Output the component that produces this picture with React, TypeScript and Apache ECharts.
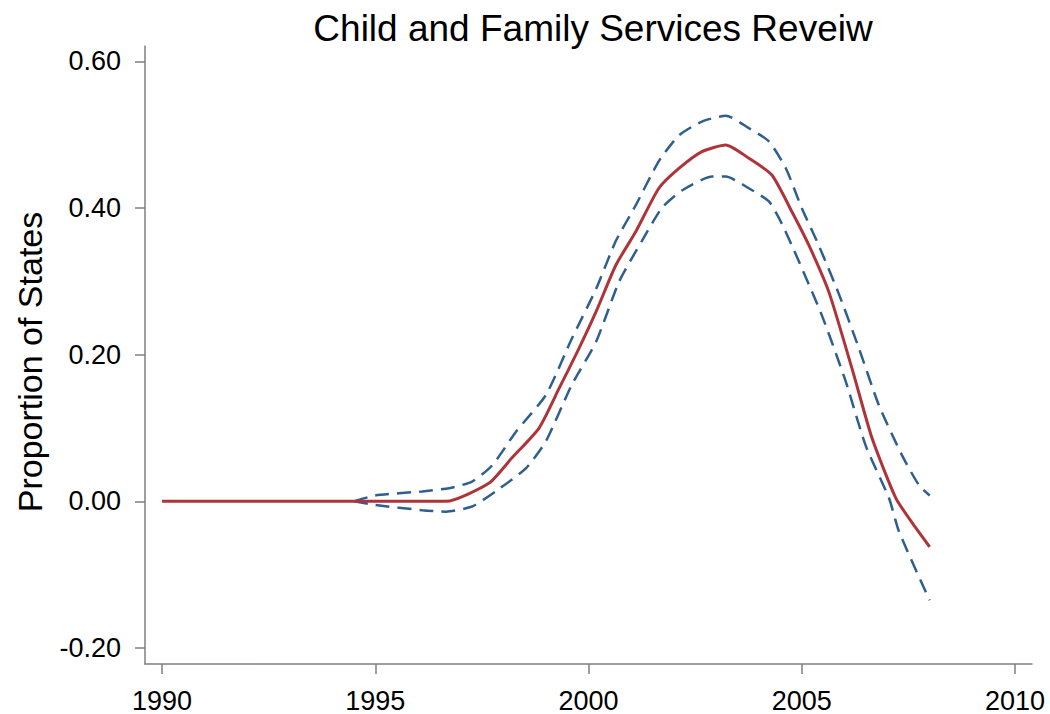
import React, { useEffect, useRef } from "react";
import * as echarts from "echarts";

const titleText = "Child and Family Services Reveiw";
const yAxisTitle = "Proportion of States";
const xTicks = [1990, 1995, 2000, 2005, 2010];
const yTicks = [-0.2, 0, 0.2, 0.4, 0.6];

const estYears = [1990, 1994.5, 1996.66, 1997.67, 1998.2, 1998.84, 1999.31, 1999.78, 2000.18, 2000.64, 2001.11, 2001.65, 2002.12, 2002.66, 2003.22, 2003.76, 2004.3, 2004.77, 2005.17, 2005.64, 2006.18, 2006.65, 2007.21, 2007.6, 2008.0];
const estValues = [0, 0, 0, 0.025, 0.059, 0.1, 0.154, 0.209, 0.259, 0.322, 0.368, 0.427, 0.454, 0.477, 0.486, 0.468, 0.445, 0.395, 0.349, 0.285, 0.181, 0.086, 0.004, -0.03, -0.062];

const upperYears = [1994.5, 1995.0, 1996.1, 1996.73, 1997.27, 1997.74, 1998.3, 1999.0, 1999.61, 2000.18, 2000.64, 2001.11, 2001.65, 2002.12, 2002.66, 2003.22, 2003.76, 2004.23, 2004.63, 2005.0, 2005.4, 2005.87, 2006.34, 2006.81, 2007.35, 2007.75, 2008.0];
const upperValues = [0, 0.008, 0.0136, 0.018, 0.027, 0.049, 0.095, 0.145, 0.222, 0.29, 0.355, 0.404, 0.464, 0.499, 0.518, 0.526, 0.509, 0.491, 0.454, 0.4, 0.349, 0.283, 0.209, 0.131, 0.063, 0.022, 0.008];

const lowerYears = [1994.5, 1995.0, 1996.1, 1996.66, 1997.27, 1997.83, 1998.53, 1999.0, 1999.6, 2000.18, 2000.72, 2001.25, 2001.72, 2002.19, 2002.9, 2003.22, 2003.76, 2004.23, 2004.47, 2004.77, 2005.47, 2006.03, 2006.5, 2007.05, 2007.28, 2008.0];
const lowerValues = [0, -0.005, -0.012, -0.014, -0.007, 0.014, 0.045, 0.082, 0.158, 0.218, 0.3, 0.355, 0.4, 0.424, 0.443, 0.443, 0.427, 0.409, 0.386, 0.349, 0.254, 0.164, 0.076, 0.004, -0.041, -0.135];

const zip = (xs: number[], ys: number[]) => xs.map((x, i) => [x, ys[i]]);

export default function App() {
  const ref = useRef<HTMLDivElement>(null);
  useEffect(() => {
    if (!ref.current) return;
    const chart = echarts.init(ref.current, null, { renderer: "svg" });
    const font = "'Liberation Sans', Arial, sans-serif";
    const axisColor = "#7f7f7f";
    chart.setOption({
      animation: false,
      backgroundColor: "#ffffff",
      title: {
        text: titleText,
        left: 588,
        top: 5,
        textAlign: "center",
        textStyle: { fontSize: 37, fontWeight: "normal", fontFamily: font, color: "#000" },
      },
      grid: { left: 145, right: 18, top: 46, bottom: 48, containLabel: false },
      xAxis: {
        type: "value",
        min: 1989.6,
        max: 2010.4,
        splitLine: { show: false },
        axisLine: { show: true, onZero: false, lineStyle: { color: axisColor, width: 1.5 } },
        axisTick: { show: true, length: 10, customValues: xTicks, lineStyle: { color: axisColor, width: 1.5 } },
        axisLabel: {
          customValues: xTicks,
          margin: 23,
          fontSize: 27,
          fontFamily: font,
          color: "#000",
          formatter: (v: number) => String(Math.round(v)),
        },
      },
      yAxis: {
        type: "value",
        min: -0.2218,
        max: 0.621,
        splitLine: { show: false },
        axisLine: { show: true, onZero: false, lineStyle: { color: axisColor, width: 1.5 } },
        axisTick: { show: true, length: 10, customValues: yTicks, lineStyle: { color: axisColor, width: 1.5 } },
        axisLabel: {
          customValues: yTicks,
          margin: 24,
          fontSize: 27,
          fontFamily: font,
          color: "#000",
          formatter: (v: number) => v.toFixed(2),
        },
      },
      graphic: [
        {
          type: "text",
          x: 30,
          y: 362,
          rotation: Math.PI / 2,
          style: {
            text: yAxisTitle,
            fontSize: 34,
            fontFamily: font,
            fill: "#000",
            align: "center",
            verticalAlign: "middle",
          },
        },
      ],
      series: [
        {
          type: "line",
          data: zip(upperYears, upperValues),
          showSymbol: false,
          smooth: 0.2,
          lineStyle: { color: "#2f5f8f", width: 2.5, type: [14, 8] },
          z: 2,
        },
        {
          type: "line",
          data: zip(lowerYears, lowerValues),
          showSymbol: false,
          smooth: 0.2,
          lineStyle: { color: "#2f5f8f", width: 2.5, type: [14, 8] },
          z: 2,
        },
        {
          type: "line",
          data: zip(estYears, estValues),
          showSymbol: false,
          smooth: 0.2,
          lineStyle: { color: "#ad3539", width: 3 },
          z: 3,
        },
      ],
    });
    return () => chart.dispose();
  }, []);
  return (
    <div
      ref={ref}
      style={{ position: "absolute", left: 0, top: 0, width: 1050, height: 714 }}
    />
  );
}
